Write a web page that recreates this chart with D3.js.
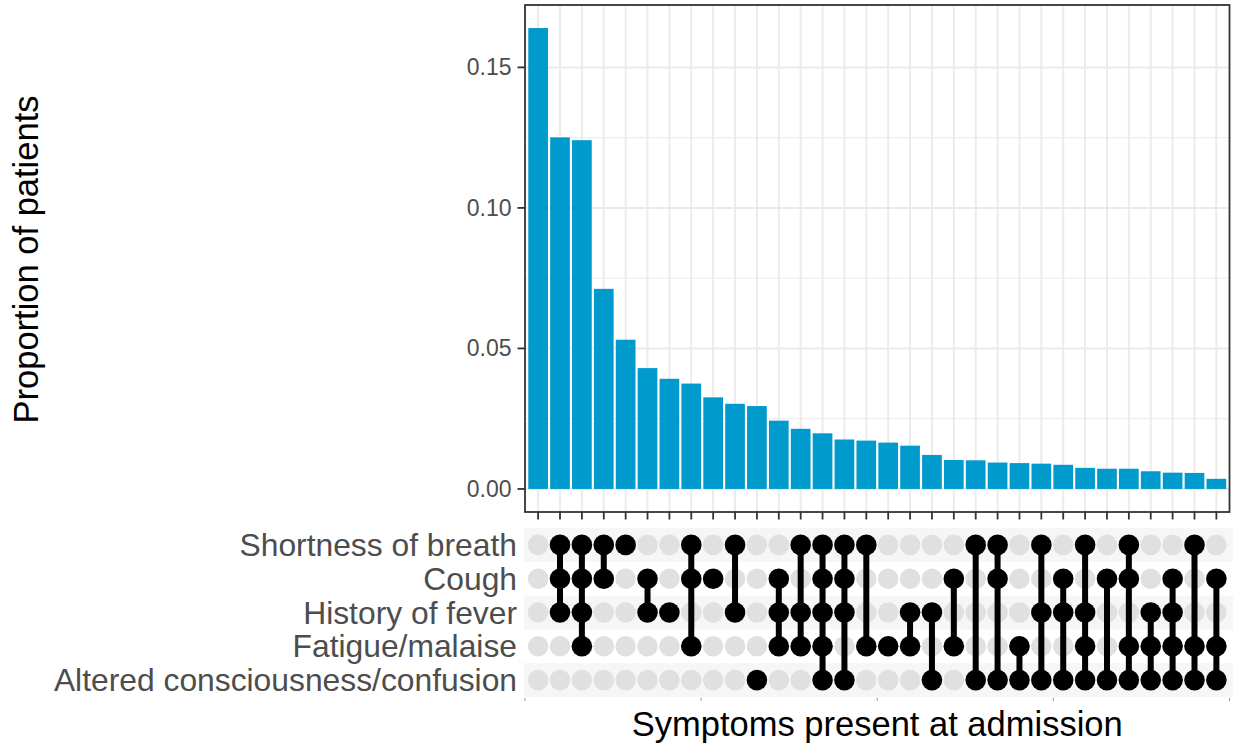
<!DOCTYPE html>
<html><head><meta charset="utf-8">
<script src="https://cdn.jsdelivr.net/npm/d3@7"></script>
<style>html,body{margin:0;padding:0;background:#fff;}svg{display:block;font-family:"Liberation Sans",Arial,Helvetica,sans-serif;}</style>
</head><body>
<svg id="c" width="1233" height="746"></svg>
<script>
const symptoms = ["Shortness of breath","Cough","History of fever","Fatigue/malaise","Altered consciousness/confusion"];
const proportions = [0.164,0.1251,0.1241,0.0712,0.0531,0.0430,0.0392,0.0375,0.0326,0.0303,0.0295,0.0243,0.0214,0.0198,0.0176,0.0172,0.0165,0.0154,0.0121,0.0103,0.0102,0.0094,0.0092,0.0090,0.0086,0.0075,0.0072,0.0072,0.0063,0.0058,0.0057,0.0036];
const combos = [[],[0,1,2],[0,1,2,3],[0,1],[0],[1,2],[2],[0,1,3],[1],[0,2],[4],[1,2,3],[0,2,3],[0,1,2,3,4],[0,1,2,4],[0,3],[3],[2,3],[2,4],[1,3],[0,4],[0,1,4],[3,4],[0,2,4],[1,2,4],[0,2,3,4],[1,4],[0,1,3,4],[2,3,4],[1,2,3,4],[0,3,4],[1,3,4]];
const yTicks = [0, 0.05, 0.10, 0.15];
const yMinor = [0.025, 0.075, 0.125];
const yTitle = "Proportion of patients";
const xTitle = "Symptoms present at admission";

const svg = d3.select("#c");
const P = {l:525, r:1229.5, t:5, b:512};
const M = {t:528, b:697};
const ids = proportions.map((d,i)=>i);
const x = d3.scalePoint().domain(ids).range([P.l,P.r]).padding(0.6);
const step = x.step();
const maxV = d3.max(proportions);
const y = d3.scaleLinear().domain([-maxV*0.05, maxV*1.05]).range([P.b,P.t]);
const row = d3.scaleBand().domain(d3.range(symptoms.length)).range([M.t,M.b]);

// gridlines
const g = svg.append("g");
g.selectAll(".ymin").data(yMinor).join("line").attr("x1",P.l).attr("x2",P.r)
 .attr("y1",d=>y(d)).attr("y2",d=>y(d)).attr("stroke","#ebebeb").attr("stroke-width",1);
g.selectAll(".ymaj").data(yTicks).join("line").attr("x1",P.l).attr("x2",P.r)
 .attr("y1",d=>y(d)).attr("y2",d=>y(d)).attr("stroke","#ebebeb").attr("stroke-width",2);
g.selectAll(".xmaj").data(ids).join("line").attr("x1",d=>x(d)).attr("x2",d=>x(d))
 .attr("y1",P.t).attr("y2",P.b).attr("stroke","#ebebeb").attr("stroke-width",2);

// bars
svg.append("g").selectAll("rect").data(proportions).join("rect")
 .attr("x",(d,i)=>x(i)-step*0.45).attr("width",step*0.9)
 .attr("y",d=>y(d)).attr("height",d=>y(0)-y(d)).attr("fill","#009ACD");

// panel border
svg.append("rect").attr("x",P.l).attr("y",P.t).attr("width",P.r-P.l).attr("height",P.b-P.t)
 .attr("fill","none").attr("stroke","#333333").attr("stroke-width",1.8);

// y axis ticks and labels
const ya = svg.append("g");
ya.selectAll("line").data(yTicks).join("line").attr("x1",P.l-7.5).attr("x2",P.l)
 .attr("y1",d=>y(d)).attr("y2",d=>y(d)).attr("stroke","#333333").attr("stroke-width",1.8);
ya.selectAll("text").data(yTicks).join("text").attr("x",P.l-13.5).attr("y",d=>y(d))
 .attr("dy","0.35em").attr("text-anchor","end").attr("fill","#4d4d4d").attr("font-size",23)
 .text(d=>d3.format(".2f")(d));
// x ticks
svg.append("g").selectAll("line").data(ids).join("line").attr("x1",d=>x(d)).attr("x2",d=>x(d))
 .attr("y1",P.b).attr("y2",P.b+7.5).attr("stroke","#333333").attr("stroke-width",1.8);

// matrix stripes
const mg = svg.append("g");
mg.selectAll("rect").data(d3.range(symptoms.length).filter(i=>i%2===0)).join("rect")
 .attr("x",P.l-1).attr("width",1233-P.l+1).attr("y",d=>row(d)).attr("height",row.bandwidth())
 .attr("fill","#f6f6f6");
// gray dots
const r = 10.3;
ids.forEach(i=>{
  mg.selectAll(null).data(d3.range(symptoms.length)).join("circle")
   .attr("cx",x(i)).attr("cy",s=>row(s)+row.bandwidth()/2).attr("r",r)
   .attr("fill",s=>combos[i].includes(s)?"#000":"#e0e0e0");
  if(combos[i].length>1){
    const lo=d3.min(combos[i]), hi=d3.max(combos[i]);
    mg.append("line").attr("x1",x(i)).attr("x2",x(i))
     .attr("y1",row(lo)+row.bandwidth()/2).attr("y2",row(hi)+row.bandwidth()/2)
     .attr("stroke","#000").attr("stroke-width",6);
  }
});
// row labels
svg.append("g").selectAll("text").data(symptoms).join("text")
 .attr("x",517).attr("y",(d,i)=>row(i)+row.bandwidth()/2).attr("dy","0.35em")
 .attr("text-anchor","end").attr("fill","#4d4d4d").attr("font-size",31.8).text(d=>d);

// faint ticks under matrix
const q = d3.scaleLinear().domain([0,4]).range([P.l,P.r]);
svg.append("g").selectAll("line").data(d3.range(5)).join("line")
 .attr("x1",d=>q(d)).attr("x2",d=>q(d)).attr("y1",M.b+1).attr("y2",M.b+4)
 .attr("stroke","#999").attr("stroke-width",1);

// titles
svg.append("text").attr("x",(P.l+P.r)/2).attr("y",736).attr("text-anchor","middle")
 .attr("font-size",34.5).attr("fill","#000").text(xTitle);
svg.append("text").attr("transform",`translate(38,${(P.t+P.b)/2+1}) rotate(-90)`)
 .attr("text-anchor","middle").attr("font-size",34.5).attr("fill","#000").text(yTitle);
</script>
</body></html>
